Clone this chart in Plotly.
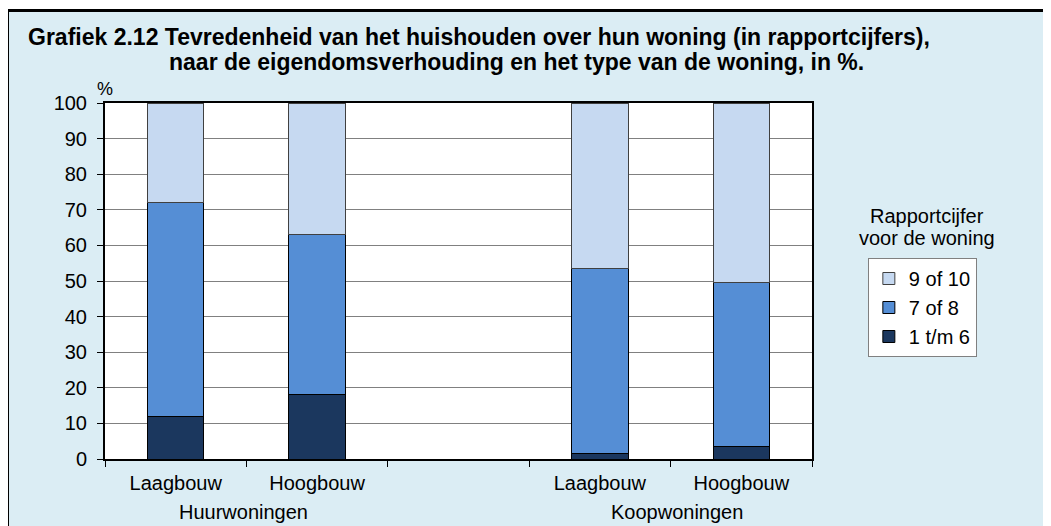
import plotly.graph_objects as go

# categories on the x axis (third slot is the empty gap between groups)
categories = ["Laagbouw", "Hoogbouw", " ", "Laagbouw ", "Hoogbouw "]
bar_x = ["Laagbouw", "Hoogbouw", "Laagbouw ", "Hoogbouw "]
tick_text = ["Laagbouw", "Hoogbouw", "", "Laagbouw", "Hoogbouw"]

# percentages per rapportcijfer
low_1_6 = [12, 18, 1.5, 3.5]
mid_7_8 = [60, 45, 52, 46]
high_9_10 = [28, 37, 46.5, 50.5]

groups = ["Huurwoningen", "Koopwoningen"]
y_ticks = list(range(0, 101, 10))

font = "Arial, Liberation Sans, sans-serif"
bg = "#DBEDF4"

fig = go.Figure()
fig.add_trace(go.Bar(x=bar_x, y=low_1_6, name="1 t/m 6",
                     marker=dict(color="#1B375E", line=dict(color="black", width=1))))
fig.add_trace(go.Bar(x=bar_x, y=mid_7_8, name="7 of 8",
                     marker=dict(color="#558ED5", line=dict(color="black", width=1))))
fig.add_trace(go.Bar(x=bar_x, y=high_9_10, name="9 of 10",
                     marker=dict(color="#C6D9F1", line=dict(color="#404040", width=1))))

# the page puts the figure 8px in from the top-left, so margins are 8px less
fig.update_layout(
    width=1051, height=526,
    barmode="stack", bargap=0.6,
    paper_bgcolor=bg, plot_bgcolor="white",
    margin=dict(l=97, r=247, t=95, b=75),
    font=dict(family=font, size=20, color="black"),
    legend=dict(x=1.079, y=0.5646, xanchor="left", yanchor="top",
                traceorder="reversed", bgcolor="white",
                bordercolor="#808080", borderwidth=1,
                font=dict(size=20), itemwidth=30),
)

fig.update_xaxes(
    type="category", categoryorder="array", categoryarray=categories,
    tickmode="array", tickvals=categories, ticktext=tick_text,
    range=[-0.5, 4.5], tickson="boundaries",
    ticks="outside", ticklen=6, tickcolor="black",
    ticklabelstandoff=5,
    showline=True, linecolor="black", linewidth=2, mirror=True,
    showgrid=False,
)
fig.update_yaxes(
    range=[0, 100], tickvals=y_ticks,
    ticks="outside", ticklen=6, tickcolor="black",
    ticklabelstandoff=6,
    showline=True, linecolor="black", linewidth=2, mirror=True,
    showgrid=True, gridcolor="#808080", gridwidth=1, zeroline=False,
)

# frame round the chart: white strip outside, black line along top and left
fl, ft = -0.1379, 1.2598
fig.add_shape(type="rect", xref="paper", yref="paper", x0=-0.3, x1=1.5, y0=ft, y1=1.5,
              fillcolor="white", line=dict(width=0))
fig.add_shape(type="rect", xref="paper", yref="paper", x0=-0.3, x1=fl, y0=-0.5, y1=1.5,
              fillcolor="white", line=dict(width=0))
fig.add_shape(type="line", xref="paper", yref="paper", x0=fl, x1=1.5, y0=ft, y1=ft,
              line=dict(color="black", width=3))
fig.add_shape(type="line", xref="paper", yref="paper", x0=fl, x1=fl, y0=-0.5, y1=ft,
              line=dict(color="black", width=3))


def label(text, x, y, size=20, xref="paper", xanchor="center"):
    fig.add_annotation(text=text, xref=xref, yref="paper", x=x, y=y,
                       xanchor=xanchor, yanchor="middle", showarrow=False,
                       font=dict(size=size))


# title
label("<b>Grafiek 2.12 Tevredenheid van het huishouden over hun woning (in rapportcijfers),</b>",
      -0.1117, 1.184, size=23, xanchor="left")
label("<b>naar de eigendomsverhouding en het type van de woning, in %.</b>",
      0.0877, 1.1138, size=23, xanchor="left")
label("%", 0, 1.039, size=18)

# legend title
label("Rapportcijfer", 1.1627, 0.6826)
label("voor de woning", 1.1627, 0.6208)

# group labels under the categories
for g, xpos in zip(groups, [0.476, 3.545]):
    label(g, xpos, -0.1489, xref="x")

fig.write_html("out.html")
